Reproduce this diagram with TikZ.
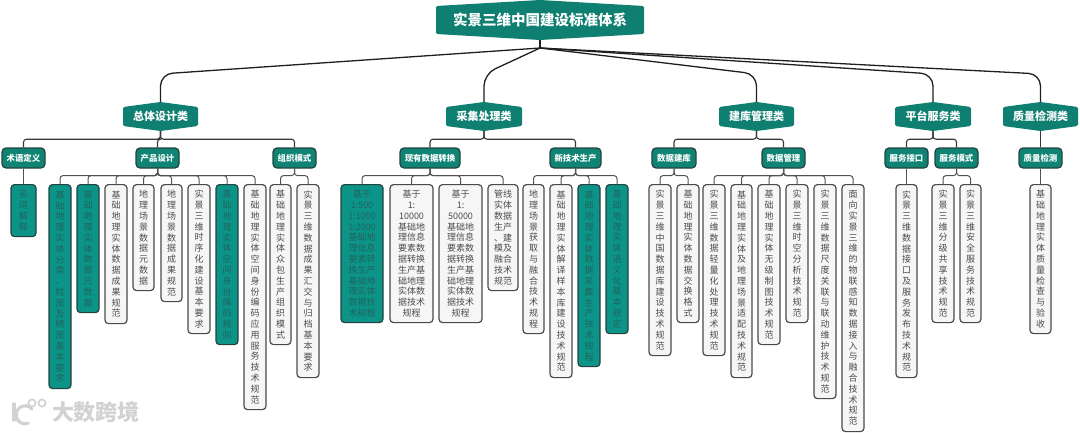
\documentclass[tikz,border=0pt]{standalone}
\usepackage{fontspec}
\newfontfamily\cjk{Noto Sans CJK SC}
\definecolor{tealhex}{HTML}{0E7F70}
\definecolor{tealsub}{HTML}{0F8474}
\definecolor{tealleaf}{HTML}{0C9488}
\definecolor{tealtxt}{HTML}{1F655E}
\definecolor{greyleaf}{HTML}{F6F6F6}
\definecolor{edgedark}{HTML}{24423E}
\definecolor{edgegrey}{HTML}{4A4A4A}
\definecolor{wm}{HTML}{D2D2D2}
\tikzset{
  hexfill/.style={fill=tealhex,rounded corners=1.5pt},
  hextxt/.style={inner sep=0pt,text=white,font=\cjk\bfseries\fontsize{#1}{#1}\selectfont},
  subbox/.style={draw=edgedark,line width=1.2pt,fill=tealsub,rounded corners=4pt,inner sep=0pt,text=white,
    font=\cjk\bfseries\fontsize{8.4}{10}\selectfont},
  leafbase/.style={draw=edgegrey,line width=1.2pt,rounded corners=3.5pt,inner sep=0pt,anchor=north,align=center,
    font=\cjk\fontsize{9}{10.8}\selectfont},
  leafw/.style={leafbase,fill=greyleaf,text=black!70},
  leaft/.style={leafbase,draw=edgedark,fill=tealleaf,text=tealtxt},
  trunk/.style={draw=black!88,line width=1.3pt,rounded corners=12pt},
  conn/.style={draw=black!78,line width=1.1pt,rounded corners=3pt},
  connl/.style={draw=black!68,line width=1pt,rounded corners=3pt},
}
% one character per row
\def\vchars#1{\vcharsA#1\relax}
\def\vcharsA#1{\ifx#1\relax\else #1\par\expandafter\vcharsA\fi}
% \hexnode{name}{x0}{x1}{top}{bottom}{shoulder}{font size}{text}
\newcommand\hexnode[8]{%
  \pgfmathsetmacro\xc{(#2+#3)/2}%
  \fill[hexfill] (#2,#4+#6) -- (\xc,#4) -- (#3,#4+#6) -- (#3,#5-#6) -- (\xc,#5) -- (#2,#5-#6) -- cycle;
  \pgfmathsetmacro\hw{#3-#2}\pgfmathsetmacro\hh{#5-#4}\pgfmathsetmacro\hy{(#4+#5)/2}%
  \node[hextxt=#7,minimum width=\hw pt,minimum height=\hh pt] (#1) at (\xc,\hy) {#8};
}
% \subnode{name}{parent}{x0}{x1}{text}
\newcommand\subnode[5]{%
  \pgfmathsetmacro\xc{(#3+#4)/2}\pgfmathsetmacro\hw{#4-#3}%
  \node[subbox,minimum width=\hw pt,minimum height=20pt] (#1) at (\xc,158) {#5};
  \draw[conn] (#2.south) -- ++(0,8) -| (#1.north);
}
% \leafnode{name}{parent}{x0}{x1}{bottom}{style}{text}
\newcommand\leafnode[7]{%
  \pgfmathsetmacro\xc{(#3+#4)/2}\pgfmathsetmacro\hw{#4-#3}\pgfmathsetmacro\hh{#5-184}%
  \node[#6,minimum height=\hh pt,text width=\hw pt] (#1) at (\xc,184) {#7};
  \draw[connl] (#2.south) -- ++(0,7) -| (#1.north);
}
\begin{document}
\begin{tikzpicture}[x=1pt,y=-1pt]
\useasboundingbox (0,0) rectangle (1080,432);
% watermark
\begin{scope}[draw=wm,line width=3.2pt,line cap=round]
  \draw (14,404) -- (14,420);
  \draw (32,409) arc[start angle=-40,end angle=-290,radius=9];
  \draw[line width=1.7pt] (32,403) circle[radius=3.6];
  \draw[line width=1.7pt] (42,403) circle[radius=3.6];
\end{scope}
\node[inner sep=0pt,text=wm,font=\cjk\bfseries\fontsize{22}{22}\selectfont] (wmark) at (96,412) {大数跨境};
% root
\hexnode{root}{436}{644}{0}{40}{6}{14.5}{实景三维中国建设标准体系}
\coordinate (hub) at (540,48);
\draw[black!88,line width=1.3pt] (root.south) -- (hub);
% categories
\hexnode{c1}{123}{198}{102}{131}{5}{11}{总体设计类}
\hexnode{c2}{446}{522}{102}{131}{5}{11}{采集处理类}
\hexnode{c3}{719}{794}{102}{131}{5}{11}{建库管理类}
\hexnode{c4}{895}{971}{102}{131}{5}{11}{平台服务类}
\hexnode{c5}{1003}{1078}{102}{131}{5}{11}{质量检测类}
\foreach \c in {c1,c2,c3,c4,c5}
  \draw[trunk] (hub) -- (\c.north |- 0,74) -- (\c.north);
% 总体设计类
\subnode{s11}{c1}{2}{45}{术语定义}
\subnode{s12}{c1}{136}{179}{产品设计}
\subnode{s13}{c1}{273}{316}{组织模式}
\leafnode{a1}{s11}{11}{36}{236}{leaft}{\vchars{名词解释}}
\leafnode{a2}{s12}{49}{71}{388}{leaft}{\vchars{基础地理实体分类、粒度及精度基本要求}}
\leafnode{a3}{s12}{77}{99}{312}{leaft}{\vchars{基础地理实体数据元数据}}
\leafnode{a4}{s12}{105}{127}{323}{leafw}{\vchars{基础地理实体数据成果规范}}
\leafnode{a5}{s12}{133}{154}{290}{leafw}{\vchars{地理场景数据元数据}}
\leafnode{a6}{s12}{161}{182}{301}{leafw}{\vchars{地理场景数据成果规范}}
\leafnode{a7}{s12}{188}{210}{333}{leafw}{\vchars{实景三维时序化建设基本要求}}
\leafnode{a8}{s12}{216}{238}{344}{leaft}{\vchars{基础地理实体空间身份编码规则}}
\leafnode{a9}{s12}{244}{266}{409}{leafw}{\vchars{基础地理实体空间身份编码应用服务技术规范}}
\leafnode{a10}{s13}{270}{291}{344}{leafw}{\vchars{基础地理实体众包生产组织模式}}
\leafnode{a11}{s13}{297}{319}{377}{leafw}{\vchars{实景三维数据成果汇交与归档基本要求}}
% 采集处理类
\subnode{s21}{c2}{400}{460}{现有数据转换}
\subnode{s22}{c2}{550}{601}{新技术生产}
\leafnode{b1}{s21}{341}{383}{322}{leaft}{基于\\1:500\\1:1000\\1:2000\\基础地\\理信息\\要素转\\换生产\\基础地\\理实体\\数据技\\术规程}
\leafnode{b2}{s21}{390}{433}{322}{leafw}{基于\\1:\\10000\\基础地\\理信息\\要素数\\据转换\\生产基\\础地理\\实体数\\据技术\\规程}
\leafnode{b3}{s21}{439}{482}{322}{leafw}{基于\\1:\\50000\\基础地\\理信息\\要素数\\据转换\\生产基\\础地理\\实体数\\据技术\\规程}
\leafnode{b4}{s21}{488}{518}{290}{leafw}{管线\\实体\\数据\\生产\\、建\\模及\\融合\\技术\\规范}
\leafnode{b5}{s22}{523}{544}{333}{leafw}{\vchars{地理场景获取与融合技术规程}}
\leafnode{b6}{s22}{550}{572}{377}{leafw}{\vchars{基础地理实体解译样本库建设技术规范}}
\leafnode{b7}{s22}{578}{600}{366}{leaft}{\vchars{基础地理实体数据采集生产技术规程}}
\leafnode{b8}{s22}{606}{628}{333}{leaft}{\vchars{基础地理实体语义化基本规定}}
% 建库管理类
\subnode{s31}{c3}{652}{696}{数据建库}
\subnode{s32}{c3}{762}{805}{数据管理}
\leafnode{d1}{s31}{649}{671}{355}{leafw}{\vchars{实景三维中国数据库建设技术规范}}
\leafnode{d2}{s31}{677}{699}{322}{leafw}{\vchars{基础地理实体数据交换格式}}
\leafnode{d3}{s32}{703}{725}{355}{leafw}{\vchars{实景三维数据轻量化处理技术规范}}
\leafnode{d4}{s32}{731}{752}{377}{leafw}{\vchars{基础地理实体及地理场景适配技术规范}}
\leafnode{d5}{s32}{758}{780}{344}{leafw}{\vchars{基础地理实体无级制图技术规范}}
\leafnode{d6}{s32}{786}{808}{322}{leafw}{\vchars{实景三维时空分析技术规范}}
\leafnode{d7}{s32}{814}{836}{398}{leafw}{\vchars{实景三维数据尺度关联与联动维护技术规范}}
\leafnode{d8}{s32}{842}{864}{431}{leafw}{\vchars{面向实景三维的物联感知数据接入与融合技术规范}}
% 平台服务类
\subnode{s41}{c4}{885}{928}{服务接口}
\subnode{s42}{c4}{935}{978}{服务模式}
\leafnode{e1}{s41}{896}{917}{377}{leafw}{\vchars{实景三维数据接口及服务发布技术规范}}
\leafnode{e2}{s42}{932}{954}{322}{leafw}{\vchars{实景三维分级共享技术规范}}
\leafnode{e3}{s42}{960}{981}{322}{leafw}{\vchars{实景三维安全服务技术规范}}
% 质量检测类
\subnode{s51}{c5}{1019}{1062}{质量检测}
\leafnode{f1}{s51}{1030}{1051}{333}{leafw}{\vchars{基础地理实体质量检查与验收}}
\end{tikzpicture}
\end{document}
